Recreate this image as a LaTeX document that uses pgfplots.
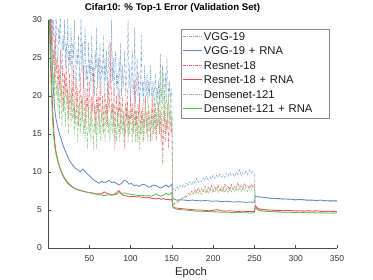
\documentclass[border=0pt]{standalone}
\usepackage{fontspec}
\setmainfont{Liberation Sans}
\usepackage{pgfplots}
\usepackage{pgfplotstable}
\pgfplotsset{compat=1.18}
\definecolor{cb}{RGB}{74,126,187}
\definecolor{cr}{RGB}{232,52,58}
\definecolor{cg}{RGB}{96,184,84}
\pgfplotstableread{
e vgg res den
1 45 40 38
2 38 33 30
3 33 29 26
4 29 27 24
5 31 30 27
6 27 24 21
7 30 26 23
8 25 22 19
9 28 28 25
10 31 23 20
11 26 25 22
12 24 20 18
13 29 24 21
14 27 21 17
15 32 26 23
16 25 19 19
17 23 22 16
18 28 24 21
19 26 18 18
20 30 23 20
21 24 20 16
22 27 25 19
23 25 19 22
24 31 21 17
25 23 17 15
26 26 23 20
27 24 20 18
28 29 18 16
29 22 22 21
30 27 19 17
31 25 24 19
32 30 17 15
33 23 20 18
34 21 22 16
35 26 18 20
36 24 21 14
37 28 16 17
38 22 19 19
39 25 23 15
40 31 18 18
41 23 20 16
42 27 17 20
43 21 24 15
44 26 19 17
45 29 16 14
46 22 21 19
47 24 18 16
48 20 20 13
49 27 17 18
50 23 22 15
51 25 19 17
52 21 16 14
53 28 20 19
54 22 18 16
55 24 23 13
56 20 17 17
57 26 19 15
58 23 15 18
59 29 21 13
60 21 18 16
61 25 20 19
62 22 16 15
63 27 22 17
64 20 18 14
65 24 17 18
66 23 20 16
67 28 15 15
68 21 19 19
69 25 21 14
70 22 17 17
71 26 19 16
72 20 16 20
73 24 22 15
74 27 18 17
75 21 20 14
76 23 27 18
77 30 17 16
78 22 19 15
79 25 16 19
80 20 21 14
81 24 13 17
82 26 18 16
83 21 20 14
84 23 16 18
85 19 19 15
86 25 17 17
87 22 21 14
88 27 15 19
89 20 18 16
90 24 20 15
91 21 16 18
92 23 18 14
93 26 13 17
94 20 19 15
95 22 17 16
96 25 21 19
97 30 15 14
98 21 18 17
99 24 16 15
100 19 20 18
101 23 17 16
102 26 19 14
103 20 15 17
104 22 18 15
105 29 22 19
106 19 16 14
107 21 18 17
108 25 14 16
109 20 19 14
110 23 17 18
111 19 20 13
112 21 15 16
113 28 18 15
114 20 16 18
115 22 19 14
116 19 14 17
117 24 17 16
118 21 20 19
119 20 16 15
120 23 18 17
121 19 15 14
122 22 19 18
123 20 17 16
124 24 14 15
125 21 18 19
126 19 16 14
127 22 20 17
128 20 15 16
129 21 17 20
130 23 19 15
131 19 14 18
132 21 17 16
133 20 16 21
134 22 19 17
135 19 15 15
136 25.5 18 23
137 21 14 18
138 19 17 16
139 24 11 24
140 22 16 17
141 19 18 19
142 23 14 15
143 21 17 22
144 25 15 18
145 22 19 16
146 20 13 20
147 22 16 17
148 19 18 19
149 21 15 16
150 20 17 18
151 7.6 5.6 5.8
152 7.9 5.8 5.6
154 7.5 6.0 5.9
156 8.1 5.9 6.1
158 7.7 6.3 6.0
160 8.3 6.2 6.4
162 7.9 6.6 6.3
164 8.4 6.5 6.7
166 8.0 6.9 6.5
168 8.6 6.7 6.9
170 8.2 7.2 6.8
172 8.8 7.0 7.1
174 8.3 7.5 6.9
176 8.9 7.1 7.3
178 8.5 7.8 7.0
180 9.2 7.2 7.5
182 8.6 8.0 7.1
184 9.0 7.3 7.6
186 8.7 7.9 7.0
188 9.3 7.4 7.7
190 8.8 8.2 7.2
192 9.5 7.3 7.8
194 8.9 8.0 7.1
196 9.4 7.5 7.9
198 9.0 8.3 7.2
200 9.7 7.4 7.6
202 9.1 8.1 7.3
204 9.6 7.6 8.0
206 9.2 8.4 7.2
208 9.8 7.5 7.7
210 9.3 8.0 7.4
212 9.7 7.4 8.1
214 9.2 8.5 7.3
216 9.9 7.6 7.8
218 9.4 8.2 7.2
220 10.0 7.5 8.0
222 9.5 8.4 7.4
224 9.8 7.7 7.9
226 9.3 8.1 7.3
228 10.1 7.6 8.2
230 9.6 8.7 7.5
232 10.4 7.8 7.9
234 9.5 8.3 7.4
236 10.0 7.6 8.1
238 9.7 8.6 7.5
240 10.2 7.9 8.0
242 9.6 8.2 7.4
244 10.3 7.7 8.2
246 9.8 8.5 7.6
248 10.1 7.9 8.3
250 9.9 8.4 7.8
251 6.9 5.5 5.3
255 6.7 5.1 4.9
260 6.6 5.0 4.85
265 6.6 5.0 4.8
270 6.5 4.95 4.8
275 6.5 5.0 4.75
280 6.4 4.9 4.75
285 6.45 4.9 4.7
290 6.4 4.95 4.7
295 6.35 4.9 4.7
300 6.3 4.85 4.65
305 6.35 4.9 4.7
310 6.3 4.85 4.65
315 6.25 4.9 4.65
320 6.3 4.85 4.6
325 6.2 4.85 4.65
330 6.25 4.8 4.6
335 6.2 4.85 4.6
340 6.2 4.8 4.6
345 6.15 4.8 4.6
350 6.2 4.8 4.6
}\noisy
\pgfplotstableread{
e vggr resr denr
1 45 40 35
2 38 32 28
3 32 27 24
4 28 23 21
5 25 20 18
6 22 17.5 16
7 20 15.5 14.5
8 18.5 14.2 13.5
9 17.5 13.2 12.8
10 16.8 12.5 12.2
12 15.8 11.5 11.3
14 15.0 10.7 10.6
16 14.3 10.1 10.0
18 13.6 9.6 9.5
20 13.0 9.2 9.1
22 12.5 8.9 8.8
24 12.0 8.6 8.5
26 11.5 8.4 8.3
28 11.2 8.2 8.1
30 10.9 8.0 7.95
33 10.5 7.8 7.8
36 10.3 7.7 7.65
39 10.0 7.6 7.55
42 10.4 7.5 7.5
44 10.2 7.45 7.4
47 9.8 7.35 7.35
50 9.5 7.3 7.3
53 9.2 7.25 7.2
56 8.9 7.2 7.15
59 8.7 7.1 7.05
62 8.5 7.15 7.0
65 8.8 7.1 6.95
68 8.6 7.4 6.9
71 8.7 7.2 6.95
74 8.9 7.1 7.0
77 8.6 7.0 6.95
80 8.7 7.05 7.0
83 8.5 7.3 7.05
86 8.3 7.55 7.3
89 8.5 7.1 7.2
92 8.9 6.9 7.25
95 8.8 6.85 7.2
98 8.4 6.8 7.1
101 8.5 6.75 7.05
104 8.2 6.8 7.0
107 8.3 6.7 6.95
110 8.1 6.75 6.9
113 8.3 6.7 6.95
116 8.4 6.65 6.9
119 8.2 6.6 6.85
122 8.0 6.65 6.9
125 8.1 6.55 6.8
128 8.3 6.5 6.95
131 8.2 6.45 7.1
134 8.0 6.55 6.9
137 7.9 6.4 6.85
140 8.1 6.5 6.95
143 8.3 6.35 7.2
146 8.0 6.4 7.0
148 8.2 6.3 7.1
150 8.4 6.45 7.3
151 6.6 5.4 5.5
153 6.4 5.3 5.2
156 6.3 5.25 5.1
160 6.35 5.2 5.05
165 6.3 5.15 5.0
170 6.25 5.1 4.95
175 6.3 5.05 4.9
180 6.25 5.0 4.85
185 6.2 5.0 4.85
190 6.25 4.95 4.8
195 6.2 4.9 4.8
200 6.15 4.95 4.75
205 6.2 5.05 4.75
210 6.1 4.9 4.7
215 6.15 4.85 4.7
220 6.1 4.9 4.7
225 6.05 4.85 4.65
230 6.1 4.8 4.7
235 6.05 4.85 4.65
240 6.0 4.8 4.65
245 6.05 4.8 4.6
250 6.0 4.8 4.65
251 6.8 5.6 5.3
254 6.75 5.2 5.0
258 6.7 5.1 4.9
262 6.65 5.05 4.85
266 6.6 5.0 4.8
270 6.55 5.0 4.8
275 6.5 4.95 4.75
280 6.5 4.95 4.75
285 6.45 4.9 4.7
290 6.45 4.95 4.7
295 6.4 4.9 4.7
300 6.35 4.9 4.65
305 6.4 4.9 4.7
310 6.35 4.85 4.65
315 6.3 4.9 4.65
320 6.3 4.85 4.65
325 6.25 4.9 4.6
330 6.3 4.85 4.65
335 6.25 4.8 4.6
340 6.2 4.85 4.6
345 6.2 4.8 4.6
350 6.2 4.8 4.6
}\smooth
\begin{document}
\begin{tikzpicture}
\path[use as bounding box] (0bp,0bp) rectangle (373bp,280bp);
\begin{axis}[
  at={(48bp,32bp)}, anchor=south west,
  scale only axis, width=289bp, height=228bp,
  xmin=0, xmax=350, ymin=0, ymax=30,
  axis lines=left,
  axis line style={-, black!70, line width=0.5bp},
  tick style={black!70, line width=0.5bp},
  tick align=inside, major tick length=3bp,
  xtick={50,100,...,350}, ytick={0,5,...,30},
  /pgf/number format/assume math mode=true,
  ticklabel style={font=\fontsize{8.6}{10}\selectfont, text=black!80},
  xticklabel style={anchor=base, yshift=-13.5bp, inner sep=0pt},
  yticklabel style={anchor=east, xshift=-6bp, inner sep=0pt},
  title={Cifar10: \% Top-1 Error (Validation Set)},
  title style={font=\bfseries\fontsize{9.7}{11}\selectfont, at={(axis description cs:0.431,1.0145)}, anchor=base, inner sep=0pt},
  xlabel={Epoch},
  xlabel style={font=\fontsize{11.3}{13}\selectfont, text=black!85, at={(axis description cs:0.495,-0.1228)}, anchor=base, inner sep=0pt},
  legend cell align=left,
  legend style={at={(axis description cs:0.460,0.9605)}, anchor=north west,
    draw=black!45, fill=white,
    inner xsep=1bp, inner ysep=3bp, row sep=4.1bp,
    font=\fontsize{11.3}{13}\selectfont, text=black!90,
    nodes={inner sep=0pt, text height=8.1bp, text depth=2.3bp, text width=124bp, align=left}},
  legend image code/.code={\draw[#1] (0bp,1.2bp) -- (19bp,1.2bp); \path (21bp,0bp);},
  every axis plot/.append style={line join=round},
]
\addplot[cb!70, line width=0.5bp, dash pattern=on 3bp off 1.2bp on 0.6bp off 1.2bp] table[x=e,y=vgg]{\noisy};
\addlegendentry{VGG-19}
\addplot[cb!90, line width=0.8bp] table[x=e,y=vggr]{\smooth};
\addlegendentry{VGG-19 + RNA}
\addplot[cr!75, line width=0.5bp, dash pattern=on 3bp off 1.2bp on 0.6bp off 1.2bp] table[x=e,y=res]{\noisy};
\addlegendentry{Resnet-18}
\addplot[cr!90, line width=0.8bp] table[x=e,y=resr]{\smooth};
\addlegendentry{Resnet-18 + RNA}
\addplot[cg!75, line width=0.5bp, dash pattern=on 3bp off 1.2bp on 0.6bp off 1.2bp] table[x=e,y=den]{\noisy};
\addlegendentry{Densenet-121}
\addplot[cg, line width=0.8bp] table[x=e,y=denr]{\smooth};
\addlegendentry{Densenet-121 + RNA}
\end{axis}
\end{tikzpicture}
\end{document}
